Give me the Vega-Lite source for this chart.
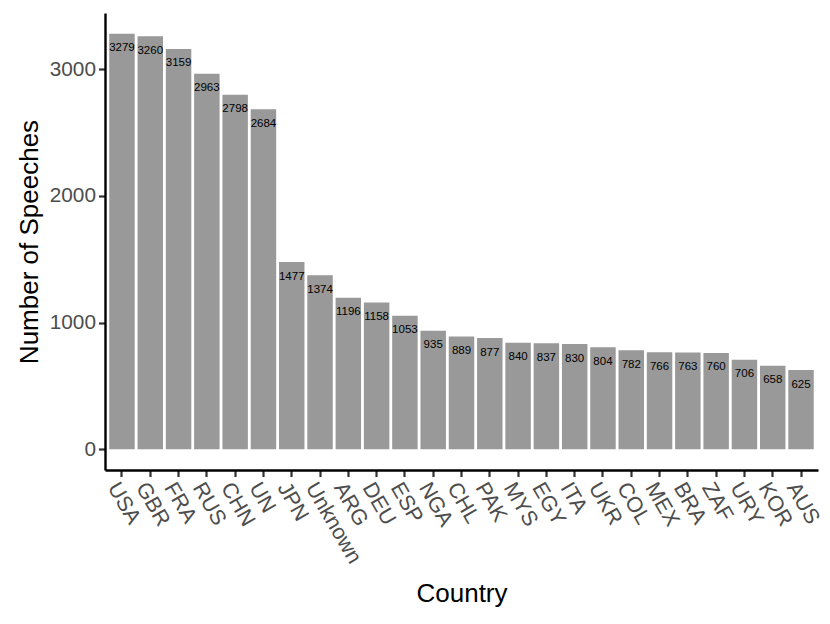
{
  "$schema": "https://vega.github.io/schema/vega-lite/v6.json",
  "width": 713,
  "height": 457,
  "autosize": {"type": "none"},
  "padding": {"left": 105, "top": 13, "right": 12, "bottom": 154},
  "background": "white",
  "config": {
    "view": {"stroke": null},
    "font": "Liberation Sans",
    "axis": {"grid": false}
  },
  "data": {
    "values": [
      {"country": "USA", "n": 3279},
      {"country": "GBR", "n": 3260},
      {"country": "FRA", "n": 3159},
      {"country": "RUS", "n": 2963},
      {"country": "CHN", "n": 2798},
      {"country": "UN", "n": 2684},
      {"country": "JPN", "n": 1477},
      {"country": "Unknown", "n": 1374},
      {"country": "ARG", "n": 1196},
      {"country": "DEU", "n": 1158},
      {"country": "ESP", "n": 1053},
      {"country": "NGA", "n": 935},
      {"country": "CHL", "n": 889},
      {"country": "PAK", "n": 877},
      {"country": "MYS", "n": 840},
      {"country": "EGY", "n": 837},
      {"country": "ITA", "n": 830},
      {"country": "UKR", "n": 804},
      {"country": "COL", "n": 782},
      {"country": "MEX", "n": 766},
      {"country": "BRA", "n": 763},
      {"country": "ZAF", "n": 760},
      {"country": "URY", "n": 706},
      {"country": "KOR", "n": 658},
      {"country": "AUS", "n": 625}
    ]
  },
  "encoding": {
    "x": {
      "field": "country",
      "type": "nominal",
      "sort": null,
      "scale": {"paddingInner": 0.1, "paddingOuter": 0.15},
      "axis": {
        "title": "Country",
        "titleFont": "Liberation Sans",
        "titleFontSize": 26,
        "titleFontWeight": "normal",
        "titleColor": "black",
        "titleX": 356.5,
        "titleY": 131,
        "titleAlign": "center",
        "titleBaseline": "alphabetic",
        "labelAngle": 60,
        "labelAlign": "left",
        "labelBaseline": "top",
        "labelFontSize": 21.5,
        "labelColor": "#4D4D4D",
        "labelPadding": 2,
        "domainColor": "black",
        "domainWidth": 2.4,
        "tickColor": "#333333",
        "tickWidth": 2.2,
        "tickSize": 6.5
      }
    },
    "y": {
      "field": "n",
      "type": "quantitative",
      "scale": {"domain": [-163.95, 3442.95], "nice": false, "zero": false},
      "axis": {
        "title": "Number of Speeches",
        "titleFont": "Liberation Sans",
        "titleFontSize": 26,
        "titleFontWeight": "normal",
        "titleColor": "black",
        "titleAngle": -90,
        "titleX": -68,
        "titleY": 228.5,
        "titleAlign": "center",
        "titleBaseline": "alphabetic",
        "values": [0, 1000, 2000, 3000],
        "format": "d",
        "labelFontSize": 20.8,
        "labelColor": "#4D4D4D",
        "labelPadding": 3,
        "domainColor": "black",
        "domainWidth": 2.4,
        "tickColor": "#333333",
        "tickWidth": 2.2,
        "tickSize": 6.5
      }
    }
  },
  "layer": [
    {
      "mark": {"type": "bar", "color": "#999999"},
      "encoding": {"y2": {"datum": 0}}
    },
    {
      "mark": {"type": "text", "color": "black", "fontSize": 11.5, "baseline": "alphabetic", "align": "center", "dy": 17.5},
      "encoding": {"text": {"field": "n", "type": "quantitative"}}
    }
  ]
}
